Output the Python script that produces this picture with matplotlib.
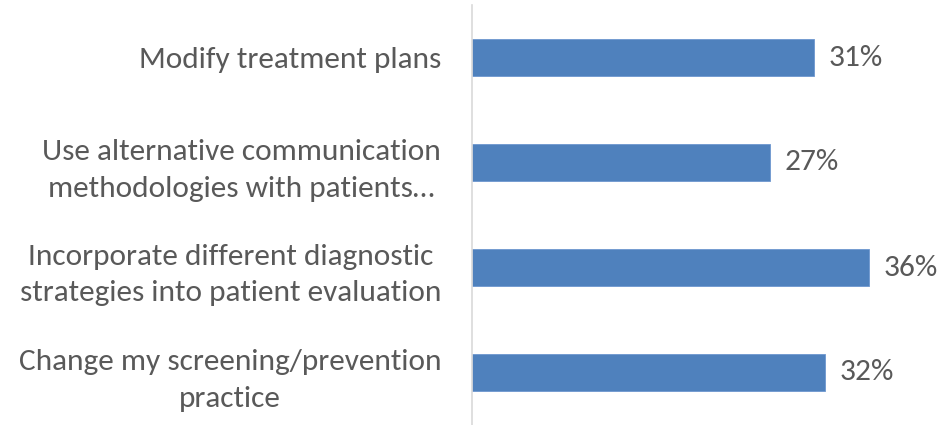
import matplotlib
matplotlib.use("Agg")
import matplotlib.pyplot as plt
from matplotlib import font_manager

categories = [
    "Modify treatment plans",
    "Use alternative communication\nmethodologies with patients…",
    "Incorporate different diagnostic\nstrategies into patient evaluation",
    "Change my screening/prevention\npractice",
]
values = [31, 27, 36, 32]
value_labels = ["31%", "27%", "36%", "32%"]

names = {f.name for f in font_manager.fontManager.ttflist}
family = None
for cand in ["Carlito", "Liberation Sans Narrow", "Open Sans"]:
    if cand in names:
        family = cand
        break
if family is None:
    family = "DejaVu Sans"
plt.rcParams['font.family'] = [family, 'DejaVu Sans']

text_color = "#595959"
bar_color = "#4F81BD"
fs = 22.6

fig = plt.figure(figsize=(9.46, 4.25), dpi=100)
ax = fig.add_axes([472/946, 0, 1 - 472/946, 1 - 5/425])
y = list(range(len(categories)))
ax.barh(y, values, height=0.35, color=bar_color, edgecolor="#6D97CF", linewidth=0.6)
ax.set_xlim(0, 43.0)
ax.set_ylim(3.5, -0.5)
ax.set_yticks(y)
ax.set_yticklabels(categories, fontsize=fs, color=text_color, linespacing=1.5,
                   multialignment="center")
ax.tick_params(axis='y', length=0, pad=22.3)
ax.set_xticks([])
for s in ["top", "right", "bottom"]:
    ax.spines[s].set_visible(False)
ax.spines["left"].set_color("#D9D9D9")
ax.spines["left"].set_linewidth(1.2)
for yi, v, lab in zip(y, values, value_labels):
    ax.annotate(lab, (v, yi), xytext=(15, 0), textcoords="offset pixels",
                va="center", ha="left", fontsize=fs, color=text_color)
fig.savefig("out.png", dpi=100)
